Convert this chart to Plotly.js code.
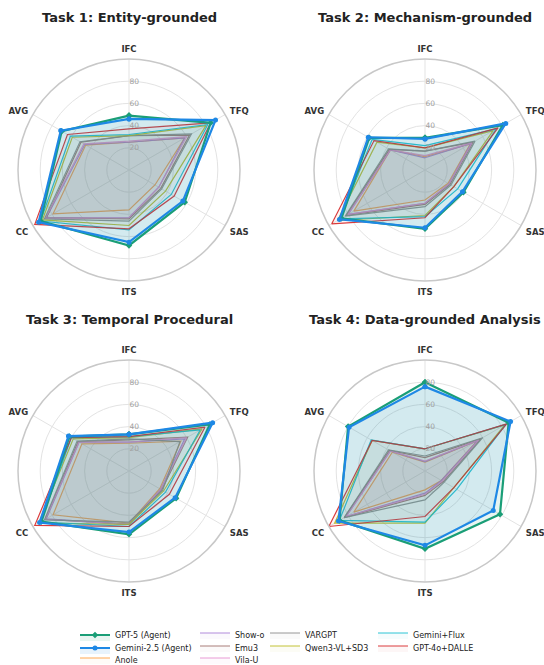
<!DOCTYPE html>
<html><head><meta charset="utf-8">
<script src="https://cdn.plot.ly/plotly-3.0.1.min.js"></script>
<style>body{margin:0;background:#fff}</style>
</head><body><div id="chart" style="width:544px;height:665px"></div>
<script>
// Axes (clockwise from top)
const axisLabels = ['IFC', 'TFQ', 'SAS', 'ITS', 'CC', 'AVG'];
const taskTitles = ['Task 1: Entity-grounded', 'Task 2: Mechanism-grounded', 'Task 3: Temporal Procedural', 'Task 4: Data-grounded Analysis'];
const modelNames = ['GPT-5 (Agent)', 'Gemini-2.5 (Agent)', 'Anole', 'Show-o', 'Emu3', 'Vila-U', 'VARGPT', 'Qwen3-VL+SD3', 'Gemini+Flux', 'GPT-4o+DALLE'];
const modelColors = ['#1a9e77', '#1e88e5', '#ff9f40', '#a97fd6', '#a0706a', '#e58fd0', '#8c8c8c', '#bcbd22', '#17becf', '#d62728'];

// Scores per model: one row per task, values in axisLabels order
const gpt5       = [[49, 85, 58, 68, 92, 70], [29, 81, 40, 53, 87, 58], [33, 84, 49, 57, 91, 62], [80, 87, 78, 70, 89, 80]];
const gemini25   = [[46, 90, 56, 65, 94, 71], [28, 84, 39, 52, 89, 59], [33, 87, 48, 55, 93, 63], [76, 89, 71, 67, 90, 79]];
const anole      = [[25, 58, 27, 36, 79, 45], [12, 47, 24, 27, 74, 36], [25, 54, 32, 47, 79, 49], [8, 54, 17, 17, 74, 34]];
const showo      = [[25, 58, 31, 43, 86, 46], [11, 48, 25, 30, 80, 36], [26, 58, 33, 48, 86, 52], [8.5, 55, 17, 20, 82, 36]];
const emu3       = [[31, 63, 33, 44, 86, 50], [17, 50, 26, 31, 82, 37], [28, 61, 34, 48, 87, 53], [12, 58, 19, 22, 84, 37]];
const vilau      = [[26, 60, 31, 43, 87, 47], [13, 49, 25, 30, 80, 36], [26, 60, 33, 48, 87, 52], [9, 56, 18, 21, 82, 36]];
const vargpt     = [[31, 65, 34, 46, 88, 51], [17, 52, 27, 33, 83, 38], [29, 53, 35, 46, 88, 54], [13.5, 60, 20, 26, 84, 38]];
const qwenSD3    = [[31, 80, 38, 50, 90, 59], [20, 71, 30, 41, 91, 50], [30, 76, 36, 48, 94, 58], [20, 83, 30, 47, 94, 55]];
const geminiFlux = [[32, 82, 44, 54, 92, 61], [22, 74, 34, 42, 88, 55], [31, 74, 38, 50, 92, 60], [20, 84, 33, 46, 89, 56]];
const gpt4oDalle = [[37, 85, 47, 53, 98, 64], [20, 76, 30, 43, 97, 53], [31, 79, 42, 50, 98, 60], [20, 85, 30, 41, 100, 55]];

const modelScores = [gpt5, gemini25, anole, showo, emu3, vilau, vargpt, qwenSD3, geminiFlux, gpt4oDalle];
// draw order: baselines first, agents last
const drawOrder = [2, 3, 4, 5, 6, 7, 8, 9, 0, 1];

function rgba(hex, a) {
  const n = parseInt(hex.slice(1), 16);
  return `rgba(${(n >> 16) & 255},${(n >> 8) & 255},${n & 255},${a})`;
}

const W = 544, H = 665;
const centers = [[129, 170], [425, 170], [129, 471], [425, 471]];
const R = 111;

const traces = [];
const polarNames = ['polar', 'polar2', 'polar3', 'polar4'];
for (let t = 0; t < 4; t++) {
  for (const m of drawOrder) {
    const vals = modelScores[m][t];
    const isAgent = m < 2;
    const tr = {
      type: 'scatterpolar',
      subplot: polarNames[t],
      r: vals.concat([vals[0]]),
      theta: axisLabels.concat([axisLabels[0]]),
      mode: isAgent ? 'lines+markers' : 'lines',
      name: modelNames[m],
      line: { color: isAgent ? modelColors[m] : rgba(modelColors[m], 0.9), width: isAgent ? 2.2 : 1.2 },
      fill: 'toself',
      fillcolor: rgba(modelColors[m], isAgent ? 0.1 : 0.045),
      showlegend: t === 0,
      legend: m === 0 ? 'legend' : 'legend' + (m + 1),
      hoverinfo: 'skip'
    };
    if (isAgent) tr.marker = { size: 5, color: modelColors[m], symbol: m === 0 ? 'diamond' : 'circle' };
    traces.push(tr);
  }
}

const layout = {
  width: W, height: H,
  margin: { l: 0, r: 0, t: 0, b: 0, autoexpand: false },
  paper_bgcolor: '#ffffff',
  font: { family: 'DejaVu Sans', color: '#333' },
  annotations: []
};

for (let t = 0; t < 4; t++) {
  const [cx, cy] = centers[t];
  layout[polarNames[t]] = {
    domain: { x: [(cx - R) / W, (cx + R) / W], y: [1 - (cy + R) / H, 1 - (cy - R) / H] },
    bgcolor: 'rgba(0,0,0,0)',
    radialaxis: {
      range: [0, 100], tickvals: [20, 40, 60, 80], ticktext: ['20', '40', '60', '80'],
      angle: 90, tickangle: 90, showline: false, ticks: '',
      gridcolor: '#e3e3e3', gridwidth: 1,
      tickfont: { size: 7.5, color: '#a0a0a0', family: 'DejaVu Sans' }
    },
    angularaxis: {
      direction: 'clockwise', rotation: 90,
      categoryorder: 'array', categoryarray: axisLabels,
      showline: true, linecolor: '#c8c8c8', linewidth: 1.5,
      gridcolor: '#e3e3e3', gridwidth: 1,
      ticks: 'outside', ticklen: 3, tickcolor: 'rgba(0,0,0,0)',
      tickfont: { size: 8.5, color: '#333', family: 'DejaVu Sans', weight: 'bold' }
    }
  };
  layout.annotations.push({
    text: taskTitles[t], xref: 'paper', yref: 'paper',
    x: cx / W, y: 1 - (t < 2 ? 17 : 319) / H, xanchor: 'center', yanchor: 'middle',
    showarrow: false, font: { size: 13, color: '#222', family: 'DejaVu Sans', weight: 'bold' }
  });
}

// legend positions: 4 columns, column-first
const legendCols = [75, 195, 265, 373];
const legendRows = [635, 648, 660];
const legendSlots = [[0, 0], [0, 1], [0, 2], [1, 0], [1, 1], [1, 2], [2, 0], [2, 1], [3, 0], [3, 1]];
for (let m = 0; m < modelNames.length; m++) {
  const key = m === 0 ? 'legend' : 'legend' + (m + 1);
  const [c, r] = legendSlots[m];
  layout[key] = {
    x: legendCols[c] / W, y: 1 - legendRows[r] / H, xanchor: 'left', yanchor: 'middle',
    bgcolor: 'rgba(0,0,0,0)', borderwidth: 0, itemwidth: 30,
    font: { size: 8, color: '#222', family: 'DejaVu Sans' }
  };
}

Plotly.newPlot('chart', traces, layout, { staticPlot: true, displayModeBar: false });
</script>
</body></html>
